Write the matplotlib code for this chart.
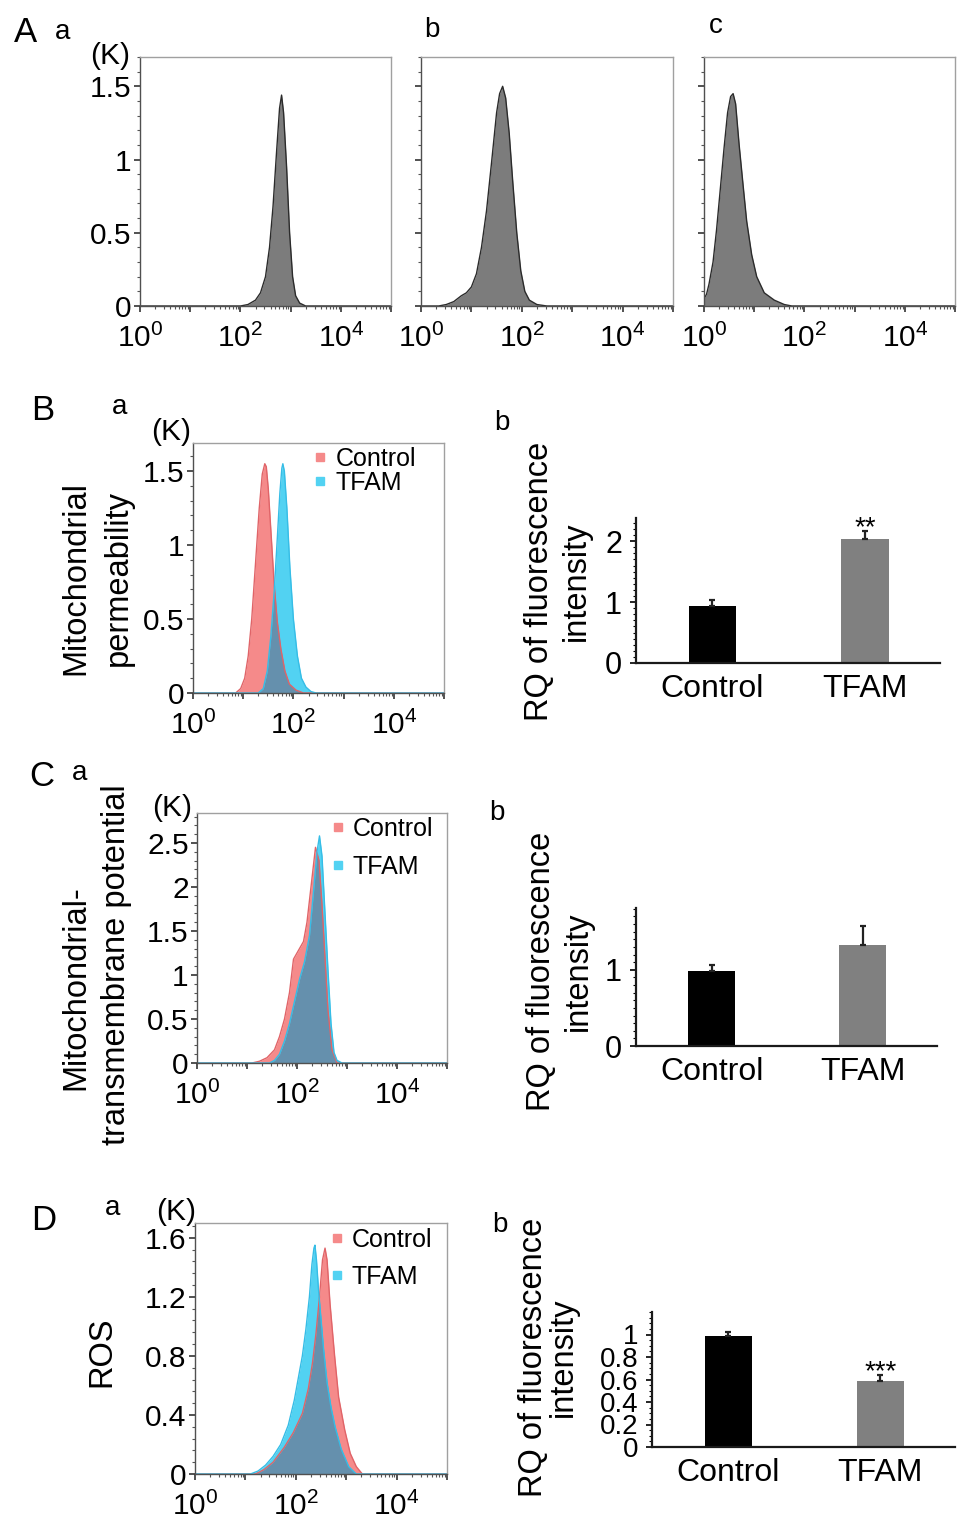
import numpy as np
import matplotlib
matplotlib.use('Agg')
import matplotlib.pyplot as plt
from matplotlib.lines import Line2D
from matplotlib.ticker import MultipleLocator, LogLocator, NullFormatter

plt.rcParams['font.family'] = ['Liberation Sans', 'DejaVu Sans']
plt.rcParams['mathtext.fontset'] = 'custom'
plt.rcParams['mathtext.rm'] = 'Liberation Sans'

# =========================
# data (log10 intensity, counts in K)
# =========================
# panel A: single histograms
a1_x = [0, 2.0, 2.15, 2.3, 2.4, 2.5, 2.58, 2.65, 2.72, 2.78, 2.82, 2.86, 2.92, 2.98, 3.04, 3.1, 3.18, 3.3, 5]
a1_y = [0, 0, 0.01, 0.04, 0.09, 0.2, 0.4, 0.68, 1.05, 1.35, 1.44, 1.32, 0.95, 0.5, 0.2, 0.07, 0.02, 0, 0]
a2_x = [0, 0.35, 0.5, 0.65, 0.8, 0.9, 1.0, 1.1, 1.2, 1.3, 1.4, 1.5, 1.56, 1.62, 1.68, 1.75, 1.82, 1.9, 1.98, 2.06, 2.15, 2.3, 2.5, 5]
a2_y = [0, 0, 0.01, 0.03, 0.07, 0.09, 0.13, 0.22, 0.4, 0.65, 0.98, 1.32, 1.45, 1.50, 1.42, 1.18, 0.85, 0.5, 0.24, 0.1, 0.04, 0.01, 0, 0]
a3_x = [0, 0.05, 0.1, 0.18, 0.25, 0.32, 0.4, 0.47, 0.53, 0.58, 0.63, 0.7, 0.78, 0.85, 0.95, 1.05, 1.2, 1.4, 1.6, 1.75, 5]
a3_y = [0.05, 0.08, 0.15, 0.3, 0.52, 0.78, 1.08, 1.32, 1.43, 1.45, 1.38, 1.1, 0.82, 0.58, 0.35, 0.2, 0.09, 0.04, 0.01, 0, 0]

# panel B a: mitochondrial permeability
b_ctrl_x = [0, 0.85, 0.95, 1.03, 1.1, 1.17, 1.25, 1.32, 1.38, 1.43, 1.46, 1.5, 1.56, 1.62, 1.68, 1.75, 1.83, 1.92, 2.05, 2.2, 5]
b_ctrl_y = [0, 0, 0.03, 0.1, 0.25, 0.5, 0.9, 1.25, 1.48, 1.55, 1.53, 1.38, 1.05, 0.72, 0.48, 0.3, 0.15, 0.06, 0.02, 0, 0]
b_tfam_x = [0, 1.3, 1.4, 1.48, 1.55, 1.62, 1.68, 1.73, 1.77, 1.79, 1.82, 1.87, 1.93, 2.0, 2.08, 2.16, 2.25, 2.35, 2.45, 5]
b_tfam_y = [0, 0, 0.03, 0.15, 0.38, 0.7, 1.05, 1.35, 1.52, 1.55, 1.5, 1.25, 0.85, 0.5, 0.25, 0.1, 0.04, 0.01, 0, 0]

# panel C a: transmembrane potential
c_ctrl_x = [0, 1.1, 1.25, 1.4, 1.55, 1.65, 1.75, 1.85, 1.93, 2.0, 2.08, 2.13, 2.2, 2.28, 2.37, 2.44, 2.5, 2.56, 2.62, 2.7, 2.8, 5]
c_ctrl_y = [0, 0, 0.02, 0.06, 0.15, 0.3, 0.5, 0.8, 1.18, 1.25, 1.33, 1.38, 1.6, 2.0, 2.45, 2.3, 1.8, 1.2, 0.6, 0.15, 0, 0]
c_tfam_x = [0, 1.45, 1.55, 1.65, 1.75, 1.85, 1.95, 2.05, 2.15, 2.25, 2.33, 2.4, 2.45, 2.5, 2.56, 2.62, 2.68, 2.74, 2.8, 2.9, 5]
c_tfam_y = [0, 0, 0.03, 0.1, 0.25, 0.45, 0.7, 0.95, 1.15, 1.45, 1.95, 2.4, 2.58, 2.35, 1.7, 1.05, 0.45, 0.12, 0.03, 0, 0]

# panel D a: ROS
d_ctrl_x = [0, 1.2, 1.37, 1.55, 1.77, 1.95, 2.13, 2.25, 2.33, 2.4, 2.47, 2.53, 2.58, 2.62, 2.68, 2.77, 2.85, 2.97, 3.08, 3.2, 3.32, 5]
d_ctrl_y = [0, 0, 0.03, 0.08, 0.18, 0.28, 0.41, 0.58, 0.75, 0.95, 1.2, 1.45, 1.53, 1.45, 1.15, 0.8, 0.52, 0.3, 0.14, 0.05, 0, 0]
d_tfam_x = [0, 1.1, 1.25, 1.4, 1.55, 1.7, 1.85, 1.97, 2.05, 2.13, 2.2, 2.27, 2.32, 2.36, 2.38, 2.41, 2.45, 2.5, 2.55, 2.62, 2.7, 2.78, 2.9, 3.05, 3.2, 5]
d_tfam_y = [0, 0, 0.02, 0.06, 0.12, 0.2, 0.33, 0.5, 0.65, 0.8, 0.98, 1.2, 1.42, 1.53, 1.55, 1.45, 1.25, 1.05, 0.85, 0.62, 0.45, 0.32, 0.17, 0.05, 0, 0]

# bar charts (RQ of fluorescence intensity)
groups = ['Control', 'TFAM']
b_means = [0.94, 2.03]
b_errs = [0.09, 0.14]
c_means = [0.99, 1.32]
c_errs = [0.07, 0.26]
d_means = [0.99, 0.59]
d_errs = [0.03, 0.05]

# =========================
# layout helpers (pixel boxes)
# =========================
W, H = 969, 1527
fig = plt.figure(figsize=(W / 100, H / 100), dpi=100)


def box(l, t, r, b):
    return [l / W, 1 - b / H, (r - l) / W, (b - t) / H]


def ftext(x, y, s, **kw):
    fig.text(x / W, 1 - y / H, s, **kw)


PINK = '#f58a8a'
CYAN = '#52d2f2'
SLATE = '#6590ad'
GRAY_FILL = '#7c7c7c'
TICK_FS = 21.5


def style_hist(ax, ytop, yticks, ylabels, yminor):
    ax.set_xscale('log')
    ax.set_xlim(1, 1e5)
    ax.set_ylim(0, ytop)
    ax.set_xticks([1, 1e1, 1e2, 1e3, 1e4, 1e5])
    ax.set_xticklabels([r'$\mathregular{10^{0}}$', '', r'$\mathregular{10^{2}}$', '',
                        r'$\mathregular{10^{4}}$', ''])
    ax.xaxis.set_minor_locator(LogLocator(base=10, subs=np.arange(2, 10), numticks=20))
    ax.xaxis.set_minor_formatter(NullFormatter())
    ax.set_yticks(yticks)
    if ylabels is None:
        ax.set_yticklabels([])
    else:
        ax.set_yticklabels(ylabels)
    ax.yaxis.set_minor_locator(MultipleLocator(yminor))
    for s in ['top', 'right']:
        ax.spines[s].set_color('#a0a0a0')
        ax.spines[s].set_linewidth(1.0)
    for s in ['left', 'bottom']:
        ax.spines[s].set_color('#505050')
        ax.spines[s].set_linewidth(1.0)
    ax.tick_params(axis='both', which='major', direction='out', length=4, width=1.2,
                   color='#333333', labelsize=TICK_FS, pad=2)
    ax.tick_params(axis='x', which='major', pad=9)
    ax.tick_params(axis='both', which='minor', direction='out', length=2, width=0.8,
                   color='#555555')


def draw_single(ax, x, y):
    xv = 10 ** np.array(x, dtype=float)
    ax.fill_between(xv, y, color=GRAY_FILL, lw=0)
    ax.plot(xv, y, color='#2b2b2b', lw=1.0)


def draw_pair(ax, cx, cy, tx, ty):
    cxa, txa = np.array(cx, float), np.array(tx, float)
    ax.fill_between(10 ** cxa, cy, color=PINK, lw=0)
    ax.fill_between(10 ** txa, ty, color=CYAN, lw=0)
    g = np.union1d(np.union1d(cxa, txa), np.linspace(0, 5, 1501))
    ov = np.minimum(np.interp(g, cxa, cy), np.interp(g, txa, ty))
    ax.fill_between(10 ** g, ov, color=SLATE, lw=0)
    ax.plot(10 ** cxa, cy, color='#e06468', lw=1.0)
    ax.plot(10 ** txa, ty, color='#36bde6', lw=1.0)


def pair_legend(ax, anchor, spacing):
    handles = [Line2D([], [], marker='s', ls='', color=PINK, ms=6),
               Line2D([], [], marker='s', ls='', color=CYAN, ms=6)]
    ax.legend(handles, groups, loc='upper left', bbox_to_anchor=anchor, frameon=False,
              fontsize=18, handlelength=0.6, handletextpad=0.3, labelspacing=spacing,
              borderpad=0, borderaxespad=0)


def style_bar(ax, means, errs, ytop, yticks, ylabels, yminor, yfs=22):
    x = np.arange(len(groups))
    ax.bar(x, means, width=0.31, color=['black', '#808080'])
    ax.errorbar(x, means, yerr=[np.zeros(len(errs)), errs], fmt='none', ecolor='#222222',
                elinewidth=1.6, capsize=2.5, capthick=1.6)
    ax.set_xlim(-0.5, 1.49)
    ax.set_ylim(0, ytop)
    ax.set_xticks(x)
    ax.set_xticklabels(groups, fontsize=23)
    ax.set_yticks(yticks)
    ax.set_yticklabels(ylabels, fontsize=yfs)
    ax.yaxis.set_minor_locator(MultipleLocator(yminor))
    for s in ['top', 'right']:
        ax.spines[s].set_visible(False)
    for s in ['left', 'bottom']:
        ax.spines[s].set_linewidth(1.6)
        ax.spines[s].set_color('#1a1a1a')
    ax.tick_params(axis='x', length=0, pad=8)
    ax.tick_params(axis='y', which='major', length=4, width=1.2, pad=6)
    ax.tick_params(axis='y', which='minor', length=2, width=0.8)


# =========================
# Panel A
# =========================
axA1 = fig.add_axes(box(140, 57, 391, 306))
axA2 = fig.add_axes(box(421, 57, 673, 306))
axA3 = fig.add_axes(box(704, 57, 955, 306))
for ax, (x, y) in zip([axA1, axA2, axA3], [(a1_x, a1_y), (a2_x, a2_y), (a3_x, a3_y)]):
    draw_single(ax, x, y)
style_hist(axA1, 1.70, [0, 0.5, 1, 1.5], ['0', '0.5', '1', '1.5'], 0.1)
style_hist(axA2, 1.70, [0, 0.5, 1, 1.5], None, 0.1)
style_hist(axA3, 1.70, [0, 0.5, 1, 1.5], None, 0.1)

ftext(25, 32, 'A', fontsize=25, ha='center', va='center')
ftext(63, 32, 'a', fontsize=20, ha='center', va='center')
ftext(432, 30, 'b', fontsize=20, ha='center', va='center')
ftext(716, 26, 'c', fontsize=20, ha='center', va='center')
ftext(110, 56, '(K)', fontsize=TICK_FS, ha='center', va='center')

# =========================
# Panel B
# =========================
axBa = fig.add_axes(box(193, 443, 444, 693))
draw_pair(axBa, b_ctrl_x, b_ctrl_y, b_tfam_x, b_tfam_y)
style_hist(axBa, 1.69, [0, 0.5, 1, 1.5], ['0', '0.5', '1', '1.5'], 0.1)
pair_legend(axBa, (0.478, 0.985), 0.0)

axBb = fig.add_axes(box(636, 518, 940, 663))
style_bar(axBb, b_means, b_errs, 2.38, [0, 1, 2], ['0', '1', '2'], 0.1)
axBb.text(1, 2.10, '**', fontsize=20, ha='center', va='baseline')

ftext(43, 411, 'B', fontsize=25, ha='center', va='center')
ftext(120, 407, 'a', fontsize=20, ha='center', va='center')
ftext(502, 423, 'b', fontsize=20, ha='center', va='center')
ftext(171, 432, '(K)', fontsize=TICK_FS, ha='center', va='center')
ftext(76, 578, 'Mitochondrial', fontsize=23.5, rotation=90, ha='center', va='center')
ftext(118, 578, 'permeability', fontsize=23.5, rotation=90, ha='center', va='center')
ftext(539, 581, 'RQ of fluorescence', fontsize=23.5, rotation=90, ha='center', va='center')
ftext(576, 581, 'intensity', fontsize=23.5, rotation=90, ha='center', va='center')

# =========================
# Panel C
# =========================
axCa = fig.add_axes(box(197, 813, 447, 1063))
draw_pair(axCa, c_ctrl_x, c_ctrl_y, c_tfam_x, c_tfam_y)
style_hist(axCa, 2.84, [0, 0.5, 1, 1.5, 2, 2.5], ['0', '0.5', '1', '1.5', '2', '2.5'], 0.1)
pair_legend(axCa, (0.532, 0.985), 0.55)

axCb = fig.add_axes(box(636, 908, 937, 1046))
style_bar(axCb, c_means, c_errs, 1.81, [0, 1], ['0', '1'], 0.1)

ftext(42, 777, 'C', fontsize=25, ha='center', va='center')
ftext(80, 773, 'a', fontsize=20, ha='center', va='center')
ftext(497, 813, 'b', fontsize=20, ha='center', va='center')
ftext(172, 808, '(K)', fontsize=TICK_FS, ha='center', va='center')
ftext(76, 988, 'Mitochondrial-', fontsize=23.5, rotation=90, ha='center', va='center')
ftext(116, 965, 'transmembrane potential', fontsize=23.5, rotation=90, ha='center', va='center')
ftext(541, 971, 'RQ of fluorescence', fontsize=23.5, rotation=90, ha='center', va='center')
ftext(578, 971, 'intensity', fontsize=23.5, rotation=90, ha='center', va='center')

# =========================
# Panel D
# =========================
axDa = fig.add_axes(box(195, 1223, 447, 1474))
draw_pair(axDa, d_ctrl_x, d_ctrl_y, d_tfam_x, d_tfam_y)
style_hist(axDa, 1.70, [0, 0.4, 0.8, 1.2, 1.6], ['0', '0.4', '0.8', '1.2', '1.6'], 0.08)
pair_legend(axDa, (0.532, 0.98), 0.5)

axDb = fig.add_axes(box(652, 1312, 955, 1447))
style_bar(axDb, d_means, d_errs, 1.2, [0, 0.2, 0.4, 0.6, 0.8, 1.0],
          ['0', '0.2', '0.4', '0.6', '0.8', '1'], 0.05, yfs=20)
axDb.text(1, 0.60, '***', fontsize=20, ha='center', va='baseline')

ftext(44, 1220, 'D', fontsize=25, ha='center', va='center')
ftext(113, 1208, 'a', fontsize=20, ha='center', va='center')
ftext(500, 1225, 'b', fontsize=20, ha='center', va='center')
ftext(176, 1212, '(K)', fontsize=TICK_FS, ha='center', va='center')
ftext(102, 1352, 'ROS', fontsize=23.5, rotation=90, ha='center', va='center')
ftext(534, 1357, 'RQ of fluorescence', fontsize=23.5, rotation=90, ha='center', va='center')
ftext(563, 1357, 'intensity', fontsize=23.5, rotation=90, ha='center', va='center')

fig.savefig('out.png', dpi=100)
